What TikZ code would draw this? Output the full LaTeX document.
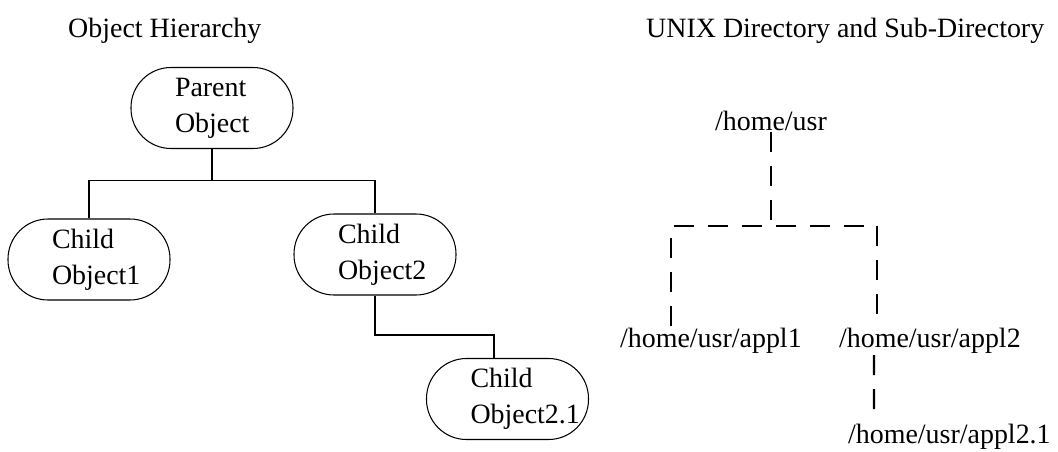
\documentclass[tikz,border=0pt]{standalone}
\usepackage{fontspec}
\setmainfont{Liberation Serif}
\begin{document}
\begin{tikzpicture}[x=1cm,y=1cm,font=\fontsize{15.9}{20.5}\selectfont,
    obj/.style={draw,line width=0.6pt,rounded corners=0.8cm,text width=1.48cm,inner xsep=0.88cm,
      minimum height=1.62cm,align=left,execute at begin node={\hyphenpenalty=10000}},
    dirname/.style={inner sep=1pt,anchor=base west},
    tree/.style={line width=1.1pt},
    dashtree/.style={line width=1.3pt,dash pattern=on 0.4cm off 0.28cm}]
  \useasboundingbox (0,0) rectangle (21.16,9.02);
  \node[anchor=base west] (lefttitle) at (1.24,8.28) {Object Hierarchy};
  \node[anchor=base west] (righttitle) at (12.8,8.28) {UNIX Directory and Sub-Directory};
  % object hierarchy
  \node[obj] (parent) at (4.24,6.86) {Parent\\Object};
  \node[obj] (child1) at (1.78,3.83) {Child\\Object1};
  \node[obj] (child2) at (7.50,3.93) {Child\\Object2};
  \node[obj] (child21) at (10.15,1.04) {Child\\Object2.1};
  \draw[tree] (child1.north) |- ([yshift=-0.63cm]parent.south) -| (child2.north);
  \draw[tree] (parent.south) -- ++(0,-0.63);
  \draw[tree] (child2.south) -- ++(0,-0.78) -| ([xshift=-0.27cm]child21.north);
  % directories
  \node[dirname] (home) at (14.26,6.42) {/home/usr};
  \node[dirname] (appl1) at (12.36,2.08) {/home/usr/appl1};
  \node[dirname] (appl2) at (16.74,2.08) {/home/usr/appl2};
  \node[dirname] (appl21) at (16.92,0.16) {/home/usr/appl2.1};
  \coordinate (fork) at (15.48,4.5);
  \draw[dashtree] (home.south) -- (home.south |- fork);
  \draw[dashtree] ([xshift=1.06cm]appl1.north west) |- (fork) -| ([xshift=0.8cm]appl2.north west);
  \draw[dashtree] ([xshift=0.74cm]appl2.south west) -- ([xshift=0.56cm]appl21.north west);
\end{tikzpicture}
\end{document}
